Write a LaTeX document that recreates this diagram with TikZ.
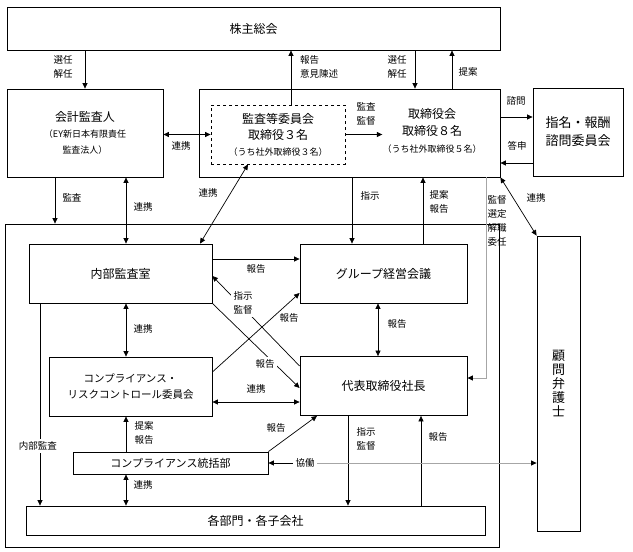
\documentclass[tikz,border=0pt]{standalone}
\usepackage{fontspec}
\setmainfont{Noto Sans CJK JP}
\usetikzlibrary{arrows.meta}

\begin{document}
\begin{tikzpicture}[x=1pt, y=-1pt,
    box/.style={draw, line width=0.8pt, inner sep=0pt, align=center, font=\fontsize{12}{16}\selectfont},
    txt/.style={inner sep=0pt, align=center, font=\fontsize{12}{17}\selectfont},
    lbl/.style={inner sep=1pt, align=left, font=\fontsize{9.5}{14}\selectfont},
    cut/.style={lbl, fill=white, inner sep=2.5pt},
    arr/.style={line width=0.7pt, -{Triangle[length=5.5pt,width=5pt]}},
    biarr/.style={line width=0.7pt, {Triangle[length=5.5pt,width=5pt]}-{Triangle[length=5.5pt,width=5pt]}},
    grayarr/.style={draw=gray!70, line width=1pt, -{Triangle[length=5.5pt,width=5pt,color=black]}}]
    \useasboundingbox (0,0) rectangle (633,552);

    \node[box, minimum width=493pt, minimum height=43pt] (kabu) at (253.5,28.5) {株主総会};
    \node[box, minimum width=156pt, minimum height=88pt] (kaikei) at (85,133) {会計監査人\\\fontsize{9}{14}\selectfont （EY新日本有限責任\\\fontsize{9}{14}\selectfont 監査法人）};
    \node[box, minimum width=301pt, minimum height=88pt] (torikai) at (349.5,133) {};
    \node[txt] (torikaitxt) at (432,131) {取締役会\\取締役８名\\\fontsize{9}{13}\selectfont （うち社外取締役５名）};
    \node[box, dashed, minimum width=134pt, minimum height=59pt] (iinkai) at (278,134.5) {監査等委員会\\取締役３名\\\fontsize{9}{14}\selectfont （うち社外取締役３名）};
    \node[box, minimum width=90pt, minimum height=88pt, font=\fontsize{13}{18}\selectfont] (shimei) at (578,132) {指名・報酬\\諮問委員会};
    \node[draw, line width=0.8pt, minimum width=494pt, minimum height=323pt] (soto) at (252,385.5) {};
    \node[box, minimum width=183pt, minimum height=59pt] (naibu) at (120.5,273.5) {内部監査室};
    \node[box, minimum width=167pt, minimum height=59pt] (group) at (383.5,273.5) {グループ経営会議};
    \node[box, minimum width=163pt, minimum height=59pt, font=\fontsize{10.5}{16}\selectfont] (compri) at (130.5,386.5) {コンプライアンス・\\リスクコントロール委員会};
    \node[box, minimum width=167pt, minimum height=59pt] (shacho) at (383.5,386) {代表取締役社長};
    \node[box, minimum width=195pt, minimum height=22pt, font=\fontsize{11}{14}\selectfont] (tokatsu) at (170.5,463) {コンプライアンス統括部};
    \node[box, minimum width=459pt, minimum height=29pt] (kakubu) at (255.5,520.5) {各部門・各子会社};
    \node[box, minimum width=43pt, minimum height=295pt, font=\fontsize{13}{14}\selectfont] (komon) at (558.5,383.5) {顧\\問\\弁\\護\\士};

    \draw[arr] (kabu.south -| kaikei.north) -- (kaikei.north);
    \draw[arr] (291,0 |- iinkai.north) -- (291,0 |- kabu.south);
    \draw[arr] (415,0 |- kabu.south) -- (415,0 |- torikai.north);
    \draw[arr] (452,0 |- torikai.north) -- (452,0 |- kabu.south);
    \draw[biarr] (kaikei.east |- iinkai.west) -- (iinkai.west);
    \draw[arr] (iinkai.east) -- (iinkai.east -| torikaitxt.west);
    \draw[arr] (torikai.east |- 0,117) -- (shimei.west |- 0,117);
    \draw[arr] (shimei.west |- 0,163) -- (torikai.east |- 0,163);
    \draw[arr] (55,0 |- kaikei.south) -- (55,0 |- soto.north);
    \draw[biarr] (126,0 |- naibu.north) -- (126,0 |- kaikei.south);
    \draw[biarr] (200,0 |- naibu.north) -- (248,0 |- iinkai.south);
    \draw[arr] (352,0 |- torikai.south) -- (352,0 |- group.north);
    \draw[arr] (423,0 |- group.north) -- (423,0 |- torikai.south);
    \draw[biarr] (torikai.south east) -- (komon.north west);
    \draw[grayarr] (486,0 |- torikai.south) |- (shacho.east |- 0,378);
    \draw[arr] (naibu.east |- 0,259) -- (group.west |- 0,259);
    \draw[arr] (shacho.west |- 0,366) -- (naibu.east |- 0,276);
    \draw[arr] (naibu.south east) -- (shacho.west |- 0,388);
    \draw[arr] (compri.east |- 0,372) -- (group.west |- 0,293);
    \draw[biarr] (126,0 |- naibu.south) -- (126,0 |- compri.north);
    \draw[biarr] (compri.east |- 0,402) -- (shacho.west |- 0,402);
    \draw[biarr] (378,0 |- group.south) -- (378,0 |- shacho.north);
    \draw[arr] (40,0 |- naibu.south) -- (40,0 |- kakubu.north);
    \draw[arr] (126,0 |- tokatsu.north) -- (126,0 |- compri.south);
    \draw[arr] (tokatsu.north east) -- (317,0 |- shacho.south);
    \draw[biarr] (126,0 |- tokatsu.south) -- (126,0 |- kakubu.north);
    \draw[arr] (348,0 |- shacho.south) -- (348,0 |- kakubu.north);
    \draw[arr] (421,0 |- kakubu.north) -- (421,0 |- shacho.south);

    \node[lbl] (sennin1) at (63,67) {選任\\解任};
    \node[lbl, anchor=west] (hokoku1) at (299,67) {報告\\意見陳述};
    \node[lbl] (sennin2) at (397,67) {選任\\解任};
    \node[lbl] (teian1) at (468,72) {提案};
    \node[lbl] (renkei1) at (181,146) {連携};
    \node[lbl] (kansa1) at (366,114) {監査\\監督};
    \node[lbl] (shimon) at (516,101) {諮問};
    \node[lbl] (toshin) at (517,146) {答申};
    \node[lbl] (kansa2) at (72,198) {監査};
    \node[lbl] (renkei2) at (143,207) {連携};
    \node[lbl] (renkei3) at (208,193) {連携};
    \node[lbl] (shiji1) at (370,196) {指示};
    \node[lbl] (teian2) at (439,202) {提案\\報告};
    \node[lbl] (renkei4) at (536,198) {連携};
    \node[lbl] (kantoku1) at (497,221) {監督\\選定\\解職\\委任};
    \node[lbl] (hokoku2) at (256,269) {報告};
    \node[cut] (shiji2) at (243,303) {指示\\監督};
    \node[cut] (hokoku3) at (265,364) {報告};
    \node[lbl] (hokoku4) at (289,318) {報告};
    \node[lbl] (renkei5) at (143,329) {連携};
    \node[lbl] (renkei6) at (256,389) {連携};
    \node[lbl] (hokoku5) at (397,324) {報告};
    \node[cut] (naibukansa) at (38,446) {内部監査};
    \node[lbl] (teian3) at (144,433) {提案\\報告};
    \node[lbl] (hokoku6) at (276,428) {報告};
    \node[lbl] (renkei7) at (143,485) {連携};
    \node[lbl, inner sep=2.5pt] (kyodo) at (305,463) {協働};
    \node[lbl] (shiji3) at (366,439) {指示\\監督};
    \node[lbl] (hokoku7) at (438,437) {報告};

    \draw[arr] (kyodo.west) -- (tokatsu.east);
    \draw[grayarr] (kyodo.east) -- (komon.west |- kyodo.east);
\end{tikzpicture}
\end{document}
